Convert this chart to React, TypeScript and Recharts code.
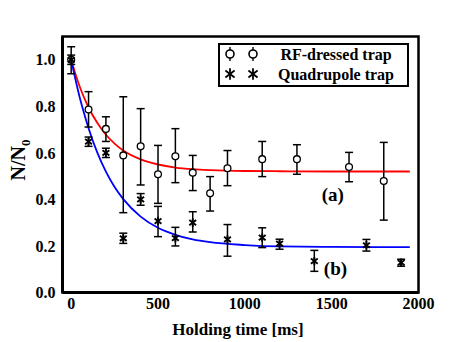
import React from "react";
import {
  ComposedChart,
  Line,
  Scatter,
  ErrorBar,
  XAxis,
  YAxis,
  ReferenceArea,
  ReferenceDot,
} from "recharts";

// measured points (holding time in ms, N/N0)
const rfTime = [0, 100, 200, 300, 400, 500, 600, 700, 800, 900, 1100, 1300, 1600, 1800];
const rfValue = [1.0, 0.786, 0.703, 0.589, 0.628, 0.508, 0.585, 0.515, 0.426, 0.534, 0.573, 0.573, 0.539, 0.479];
const rfErrLow = [0.06, 0.075, 0.054, 0.246, 0.166, 0.125, 0.113, 0.077, 0.076, 0.075, 0.075, 0.065, 0.063, 0.168];
const rfErrHigh = [0.056, 0.077, 0.052, 0.252, 0.162, 0.124, 0.119, 0.074, 0.072, 0.076, 0.076, 0.062, 0.063, 0.166];

const quadTime = [0, 100, 200, 300, 400, 500, 600, 700, 900, 1100, 1200, 1400, 1700, 1900];
const quadValue = [1.0, 0.648, 0.6, 0.233, 0.4, 0.307, 0.234, 0.3, 0.228, 0.236, 0.21, 0.135, 0.203, 0.128];
const quadErrLow = [0.02, 0.02, 0.02, 0.022, 0.025, 0.067, 0.034, 0.04, 0.072, 0.043, 0.024, 0.044, 0.025, 0.015];
const quadErrHigh = [0.02, 0.02, 0.02, 0.022, 0.025, 0.063, 0.046, 0.047, 0.064, 0.042, 0.019, 0.046, 0.025, 0.015];

// fitted curves
const fitTime = [0, 25, 50, 75, 100, 150, 200, 250, 300, 400, 500, 600, 700, 800, 1000, 1200, 1500, 1950];
const rfFit = [1.0, 0.938, 0.883, 0.836, 0.795, 0.729, 0.678, 0.64, 0.61, 0.572, 0.55, 0.537, 0.53, 0.526, 0.522, 0.521, 0.52, 0.52];
const quadFit = [1.0, 0.914, 0.836, 0.768, 0.706, 0.602, 0.519, 0.453, 0.401, 0.326, 0.278, 0.248, 0.228, 0.216, 0.204, 0.198, 0.196, 0.195];

const xTicks = [0, 500, 1000, 1500, 2000];
const yTicks = [0, 0.2, 0.4, 0.6, 0.8, 1.0];

const rfData = rfTime.map((t, i) => ({ t, v: rfValue[i], err: [rfErrLow[i], rfErrHigh[i]] }));
const quadData = quadTime.map((t, i) => ({ t, v: quadValue[i], err: [quadErrLow[i], quadErrHigh[i]] }));
const rfFitData = fitTime.map((t, i) => ({ t, v: rfFit[i] }));
const quadFitData = fitTime.map((t, i) => ({ t, v: quadFit[i] }));

const FONT = '"Liberation Serif", "Times New Roman", serif';

const OpenCircle = (p: any) => (
  <circle cx={p.cx} cy={p.cy} r={3.4} fill="#fff" stroke="#000" strokeWidth={1.3} />
);

const Star = (p: any) => {
  const { cx, cy } = p;
  const s = p.big ? 1.35 : 1;
  return (
    <g stroke="#000" strokeWidth={p.big ? 1.8 : 1.9}>
      <line x1={cx} y1={cy - 4.2 * s} x2={cx} y2={cy + 4.2 * s} />
      <line x1={cx - 3.4 * s} y1={cy - 2.6 * s} x2={cx + 3.4 * s} y2={cy + 2.6 * s} />
      <line x1={cx - 3.4 * s} y1={cy + 2.6 * s} x2={cx + 3.4 * s} y2={cy - 2.6 * s} />
    </g>
  );
};

const YTitle = () => (
  <text
    transform="translate(25,160) rotate(-90)"
    textAnchor="middle"
    fontFamily={FONT}
    fontWeight="bold"
    fontSize={20}
    fill="#000"
  >
    N/N
    <tspan fontSize={13} dy={5}>
      0
    </tspan>
  </text>
);

const XTitle = () => (
  <text x={238} y={335} textAnchor="middle" fontFamily={FONT} fontWeight="bold" fontSize={17} fill="#000">
    Holding time [ms]
  </text>
);

const LegendBox = () => (
  <div
    style={{
      position: "absolute",
      left: 218,
      top: 43,
      width: 187,
      height: 40,
      border: "2px solid #000",
      background: "#fff",
      fontFamily: FONT,
      fontWeight: "bold",
      fontSize: 16,
    }}
  >
    <svg width={60} height={40} style={{ position: "absolute", left: 0, top: 0 }}>
      {[10, 33].map((x) => (
        <g key={x}>
          <line x1={x} y1={2} x2={x} y2={16} stroke="#000" strokeWidth={1.4} />
          <circle cx={x} cy={9} r={4} fill="#fff" stroke="#000" strokeWidth={1.6} />
          <Star cx={x} cy={29} big />
        </g>
      ))}
    </svg>
    <div style={{ position: "absolute", left: 46, width: 140, top: 0, textAlign: "center", lineHeight: "19px" }}>
      RF-dressed trap
    </div>
    <div style={{ position: "absolute", left: 46, width: 140, top: 20, textAlign: "center", lineHeight: "19px" }}>
      Quadrupole trap
    </div>
  </div>
);

export default function App() {
  const tickStyle = { fontFamily: FONT, fontWeight: "bold", fontSize: 16, fill: "#000" };
  return (
    <div style={{ position: "absolute", left: 0, top: 0, width: 469, height: 342, background: "#fff" }}>
      <ComposedChart width={469} height={342} margin={{ top: 36.5, right: 50.5, bottom: 0, left: 0 }}>
        <XAxis
          type="number"
          dataKey="t"
          domain={[-50, 2000]}
          ticks={xTicks}
          allowDataOverflow
          height={49.5}
          tickSize={0}
          tickMargin={5}
          axisLine={{ stroke: "#000", strokeWidth: 3 }}
          tick={tickStyle}
          label={<XTitle />}
        />
        <YAxis
          type="number"
          dataKey="v"
          domain={[0, 1.1]}
          ticks={yTicks}
          allowDataOverflow
          width={62.5}
          tickSize={0}
          tickMargin={7}
          axisLine={{ stroke: "#000", strokeWidth: 3 }}
          tick={tickStyle}
          tickFormatter={(v: number) => v.toFixed(1)}
          label={<YTitle />}
        />
        <ReferenceArea
          x1={-50}
          x2={2000}
          y1={0}
          y2={1.1}
          fill="none"
          fillOpacity={0}
          stroke="#000"
          strokeWidth={2.5}
          ifOverflow="visible"
        />
        <Line
          data={rfFitData}
          dataKey="v"
          type="monotone"
          stroke="#ff0000"
          strokeWidth={1.8}
          dot={false}
          isAnimationActive={false}
        />
        <Line
          data={quadFitData}
          dataKey="v"
          type="monotone"
          stroke="#0000ff"
          strokeWidth={1.8}
          dot={false}
          isAnimationActive={false}
        />
        <Scatter data={rfData} dataKey="v" shape={OpenCircle} isAnimationActive={false}>
          <ErrorBar dataKey="err" direction="y" width={4} stroke="#000" strokeWidth={1.5} />
        </Scatter>
        <Scatter data={quadData} dataKey="v" shape={Star} isAnimationActive={false}>
          <ErrorBar dataKey="err" direction="y" width={4} stroke="#000" strokeWidth={1.5} />
        </Scatter>
        <ReferenceDot
          x={1507}
          y={0.423}
          r={0}
          fill="none"
          stroke="none"
          label={{ value: "(a)", position: "center", fontFamily: FONT, fontWeight: "bold", fontSize: 19, fill: "#000" }}
        />
        <ReferenceDot
          x={1522}
          y={0.104}
          r={0}
          fill="none"
          stroke="none"
          label={{ value: "(b)", position: "center", fontFamily: FONT, fontWeight: "bold", fontSize: 19, fill: "#000" }}
        />
      </ComposedChart>
      <LegendBox />
    </div>
  );
}
